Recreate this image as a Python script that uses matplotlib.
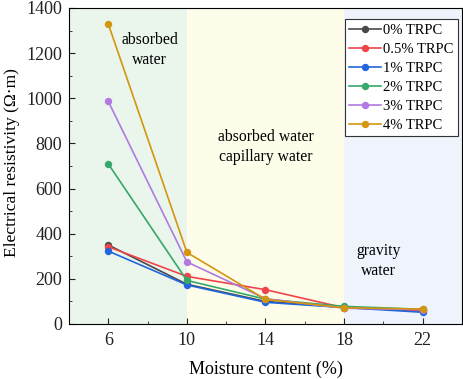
import numpy as np
from matplotlib import pyplot as plt

# 数据
moisture = [6, 10, 14, 18, 22]
labels = ['0% TRPC', '0.5% TRPC', '1% TRPC', '2% TRPC', '3% TRPC', '4% TRPC']
r_0 = [350, 176, 100, 74, 58]
r_05 = [342, 211, 152, 72, 60]
r_1 = [323, 173, 96, 73, 52]
r_2 = [709, 193, 110, 78, 65]
r_3 = [986, 275, 112, 70, 64]
r_4 = [1329, 317, 109, 72, 66]
series = [r_0, r_05, r_1, r_2, r_3, r_4]
colors = ['#4a4a4a', '#f0444a', '#2266dd', '#35a86a', '#b07ae0', '#d4950f']

plt.rcParams['font.family'] = 'serif'
plt.rcParams['font.serif'] = ['Liberation Serif', 'DejaVu Serif']
plt.rcParams['mathtext.fontset'] = 'stix'

fig = plt.figure(figsize=(4.64, 3.79), dpi=100)
ax = fig.add_axes([69 / 464, 1 - 324 / 379, 393 / 464, 316 / 379])

# 背景分区
ax.axvspan(4, 10, color='#eaf5ec', zorder=0, lw=0)
ax.axvspan(10, 18, color='#fefdea', zorder=0, lw=0)
ax.axvspan(18, 24, color='#eef3fc', zorder=0, lw=0)

for vals, lab, c in zip(series, labels, colors):
    ax.plot(moisture, vals, '-o', color=c, label=lab, lw=1.2, ms=4.3, zorder=3)

ax.set_xlim(4, 24)
ax.set_ylim(0, 1400)
ax.set_xticks(moisture)
ax.set_xticks([8, 12, 16, 20], minor=True)
ax.set_yticks(np.arange(0, 1401, 200))
ax.set_yticks(np.arange(100, 1400, 200), minor=True)
ax.tick_params(which='both', direction='in', labelsize=13, colors='#222222')
ax.tick_params(which='major', length=4)
ax.tick_params(which='minor', length=2.5)
ax.tick_params(axis='x', pad=6)
ax.tick_params(axis='y', pad=5)

ax.set_xlabel('Moisture content (%)', fontsize=13, labelpad=8)
ax.set_ylabel('Electrical resistivity (Ω·m)', fontsize=12.6)
ax.yaxis.set_label_coords(-0.125, 0.51)

ax.text(8.1, 1214, 'absorbed\nwater', ha='center', va='center', fontsize=11.3, linespacing=1.3)
ax.text(14, 784, 'absorbed water\ncapillary water', ha='center', va='center', fontsize=11.3, linespacing=1.3)
ax.text(19.75, 279, 'gravity\nwater', ha='center', va='center', fontsize=11.3, linespacing=1.3)

leg = ax.legend(loc='upper right', bbox_to_anchor=(0.99, 0.965), fontsize=10.5,
                fancybox=False, edgecolor='#333333', framealpha=1, facecolor='white',
                handlelength=2.2, borderpad=0.3, labelspacing=0.4, handletextpad=0.15,
                borderaxespad=0)
leg.get_frame().set_linewidth(0.8)

plt.savefig('out.png', dpi=100)
